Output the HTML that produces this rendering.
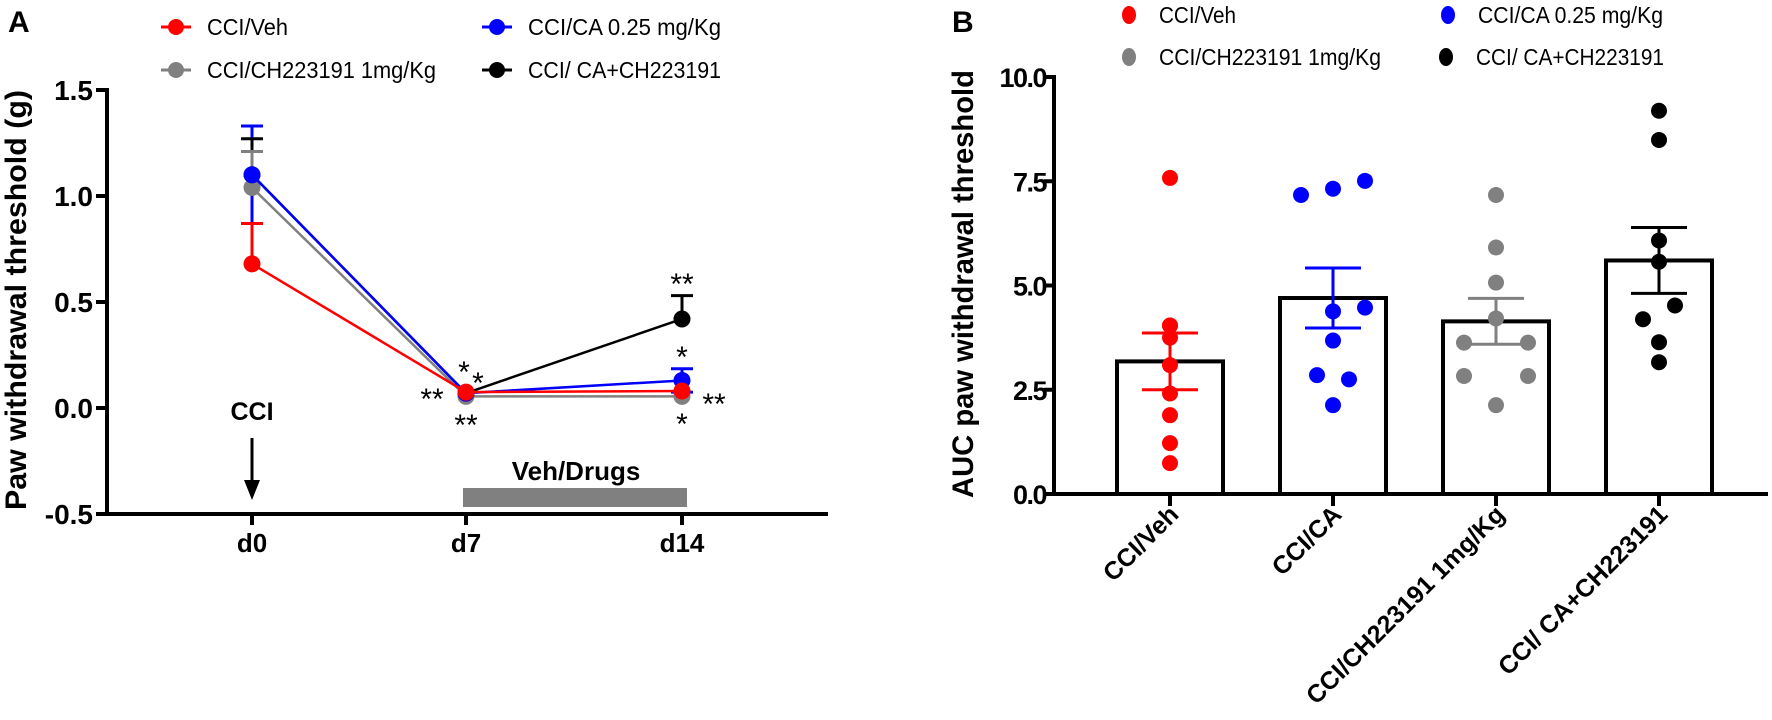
<!DOCTYPE html>
<html><head><meta charset="utf-8"><style>
html,body{margin:0;padding:0;background:#fff;}
svg{display:block;font-family:"Liberation Sans",Arial,sans-serif;}
</style></head><body>
<svg id="fig" width="1772" height="720" viewBox="0 0 1772 720" xmlns="http://www.w3.org/2000/svg">
<g id="panelA"></g>
<g id="panelB"></g>
</svg>
<script>
// ---------- Panel A data ----------
const daysA = ["d0", "d7", "d14"];
const yTicksA = [-0.5, 0.0, 0.5, 1.0, 1.5];
const yTickLabelsA = ["-0.5", "0.0", "0.5", "1.0", "1.5"];
const seriesNamesA = ["CCI/Veh", "CCI/CH223191 1mg/Kg", "CCI/CA 0.25 mg/Kg", "CCI/ CA+CH223191"];
const vehMean = [0.68, 0.075, 0.08];
const vehErr = [0.19, 0.0, 0.0];
const chMean = [1.04, 0.055, 0.055];
const chErr = [0.17, 0.0, 0.0];
const caMean = [1.10, 0.07, 0.13];
const caErr = [0.23, 0.0, 0.055];
const comboMean = [1.10, 0.07, 0.42];
const comboErr = [0.17, 0.0, 0.11];

// ---------- Panel B data ----------
const groupsB = ["CCI/Veh", "CCI/CA", "CCI/CH223191 1mg/Kg", "CCI/ CA+CH223191"];
const yTicksB = [0, 2.5, 5.0, 7.5, 10.0];
const yTickLabelsB = ["0.0", "2.5", "5.0", "7.5", "10.0"];
const barMeansB = [3.18, 4.70, 4.14, 5.60];
const barSemB = [0.68, 0.72, 0.55, 0.79];
const vehPoints = [7.58, 4.04, 4.04, 3.75, 3.09, 2.41, 1.89, 1.22, 0.74];
const caPoints = [7.17, 7.32, 7.51, 4.38, 4.47, 3.68, 2.85, 2.75, 2.13];
const chPoints = [7.17, 5.91, 5.07, 4.21, 3.63, 3.63, 2.83, 2.83, 2.13];
const comboPoints = [9.19, 8.49, 6.08, 5.57, 4.52, 4.19, 3.64, 3.16];
const jitterB = [[0,0,0,0,0,0,0,0,0],[-1,0,1,0,1,0,-0.5,0.5,0],[0,0,0,0,-1,1,-1,1,0],[0,0,0,0,0.5,-0.5,0,0]];

const NS = "http://www.w3.org/2000/svg";
function mk(parent, tag, attrs, text) {
  const e = document.createElementNS(NS, tag);
  for (const k in attrs) e.setAttribute(k, attrs[k]);
  if (text !== undefined) e.textContent = text;
  parent.appendChild(e);
  return e;
}
const A = document.getElementById("panelA");
const B = document.getElementById("panelB");

// ---------- Panel A axes ----------
const axA = {x0: 107, xEnd: 828, y0: 408, pxPerUnit: 212};
const xA = i => [252, 466, 682][i];
const yA = v => axA.y0 - v * axA.pxPerUnit;

let t = mk(A, "text", {x: 8, y: 32, "font-size": 30, "font-weight": "bold"}, "A");



let ax = mk(A, "line", {x1: axA.x0, y1: yA(1.5) - 2, x2: axA.x0, y2: yA(-0.5) + 2, stroke: "#000", "stroke-width": 4});


ax = mk(A, "line", {x1: axA.x0 - 2, y1: yA(-0.5), x2: axA.xEnd, y2: yA(-0.5), stroke: "#000", "stroke-width": 4});



yTicksA.forEach((v, i) => {
  const tk = mk(A, "line", {x1: axA.x0 - 11, y1: yA(v), x2: axA.x0, y2: yA(v), stroke: "#000", "stroke-width": 4});
  
  
  const lb = mk(A, "text", {x: axA.x0 - 14, y: yA(v) + 10, "font-size": 28, "font-weight": "bold", "text-anchor": "end"}, yTickLabelsA[i]);
  
  
});
daysA.forEach((d, i) => {
  const tk = mk(A, "line", {x1: xA(i), y1: yA(-0.5), x2: xA(i), y2: yA(-0.5) + 11, stroke: "#000", "stroke-width": 4});
  
  
  const lb = mk(A, "text", {x: xA(i), y: 552, "font-size": 26, "font-weight": "bold", "text-anchor": "middle"}, d);
  
  
});
t = mk(A, "text", {transform: "translate(26,300) rotate(-90)", "font-size": 30, "font-weight": "bold", "text-anchor": "middle", textLength: 420, lengthAdjust: "spacingAndGlyphs"}, "Paw withdrawal threshold (g)");



// CCI arrow annotation
t = mk(A, "text", {x: 252, y: 420, "font-size": 25, "font-weight": "bold", "text-anchor": "middle"}, "CCI");


let ar = mk(A, "line", {x1: 252, y1: 438, x2: 252, y2: 482, stroke: "#000", "stroke-width": 3});


ar = mk(A, "polygon", {points: "244,480 260,480 252,500", fill: "#000"});



// Veh/Drugs bar
let vb = mk(A, "rect", {x: xA(1) - 3, y: 488, width: xA(2) - xA(1) + 8, height: 19, fill: "#808080"});


t = mk(A, "text", {x: 576, y: 480, "font-size": 26, "font-weight": "bold", "text-anchor": "middle"}, "Veh/Drugs");



// series A (draw order: gray, black, blue, red)
const seriesA = [
  {m: chMean, e: chErr, c: "#808080", name: "series-ch223191"},
  {m: comboMean, e: comboErr, c: "#000000", name: "series-ca-ch223191"},
  {m: caMean, e: caErr, c: "#0000ff", name: "series-ca"},
  {m: vehMean, e: vehErr, c: "#ff0000", name: "series-veh"}
];
[{m: caMean, e: caErr, c: "#0000ff", both: true}, {m: comboMean, e: comboErr, c: "#000"}, {m: chMean, e: chErr, c: "#808080"}, {m: vehMean, e: vehErr, c: "#ff0000"}].forEach(s => {
  s.m.forEach((v, i) => {
    if (s.e[i] <= 0) return;
    const lo = s.both ? v - s.e[i] : v;
    const eb = mk(A, "path", {d: `M${xA(i)},${yA(lo)}L${xA(i)},${yA(v + s.e[i])}M${xA(i)-11},${yA(v + s.e[i])}L${xA(i)+11},${yA(v + s.e[i])}` + (s.both ? `M${xA(i)-11},${yA(lo)}L${xA(i)+11},${yA(lo)}` : ""), stroke: s.c, "stroke-width": 3, fill: "none"});
    
    
  });
});
seriesA.forEach(s => {
  const g = mk(A, "g", {});
  
  
  const pts = s.m.map((v, i) => `${xA(i)},${yA(v)}`).join(" ");
  const pl = mk(g, "polyline", {points: pts, fill: "none", stroke: s.c, "stroke-width": 2.5});
  
  
  s.m.forEach((v, i) => {
    const c = mk(g, "circle", {cx: xA(i), cy: yA(v), r: 8.5, fill: s.c});
    
    
  });
});
// asterisks
const stars = [["**", 432, 392], ["*", 464, 365], ["*", 478, 376], ["**", 466, 418], ["**", 682, 277], ["*", 682, 350], ["**", 714, 397], ["*", 682, 417]];
stars.forEach(s => {
  const st = mk(A, "text", {x: s[1], y: s[2] + 17, "font-size": 30, "text-anchor": "middle"}, s[0]);
  
  
});

// legend A
const legA = [
  {t: seriesNamesA[0], c: "#ff0000", x: 176, y: 27, w: 81},
  {t: seriesNamesA[2], c: "#0000ff", x: 497, y: 27, w: 193},
  {t: seriesNamesA[1], c: "#808080", x: 176, y: 70, w: 229},
  {t: seriesNamesA[3], c: "#000000", x: 497, y: 70, w: 193}
];
legA.forEach(l => {
  const g = mk(A, "g", {});
  
  
  mk(g, "line", {x1: l.x - 15, y1: l.y, x2: l.x + 15, y2: l.y, stroke: l.c, "stroke-width": 3});
  mk(g, "circle", {cx: l.x, cy: l.y, r: 8, fill: l.c});
  mk(g, "text", {x: l.x + 31, y: l.y + 8, "font-size": 23, textLength: l.w, lengthAdjust: "spacingAndGlyphs"}, l.t);
});

// ---------- Panel B ----------
const axB = {x0: 1054, xEnd: 1768, y0: 494, pxPerUnit: 41.7};
const yB = v => axB.y0 - v * axB.pxPerUnit;
const xB = i => 1170 + i * 163;
const colorsB = ["#ff0000", "#0000ff", "#808080", "#000000"];
const pointsB = [vehPoints, caPoints, chPoints, comboPoints];

t = mk(B, "text", {x: 952, y: 32, "font-size": 30, "font-weight": "bold"}, "B");



barMeansB.forEach((m, i) => {
  const r = mk(B, "rect", {x: xB(i) - 53, y: yB(m), width: 106, height: yB(0) - yB(m), fill: "#fff", stroke: "#000", "stroke-width": 4});
  
  
});
pointsB.forEach((arr, i) => {
  arr.forEach((v, j) => {
    const c = mk(B, "circle", {cx: xB(i) + jitterB[i][j] * 32, cy: yB(v), r: 8, fill: colorsB[i]});
    
    
  });
});
barMeansB.forEach((m, i) => {
  const hi = m + barSemB[i], lo = m - barSemB[i];
  const eb = mk(B, "path", {d: `M${xB(i)},${yB(lo)}L${xB(i)},${yB(hi)}M${xB(i)-28},${yB(hi)}L${xB(i)+28},${yB(hi)}M${xB(i)-28},${yB(lo)}L${xB(i)+28},${yB(lo)}`, stroke: colorsB[i], "stroke-width": 3, fill: "none"});
  
  
});
ax = mk(B, "line", {x1: axB.x0, y1: yB(10) - 2, x2: axB.x0, y2: yB(0) + 2, stroke: "#000", "stroke-width": 4});


ax = mk(B, "line", {x1: axB.x0 - 2, y1: yB(0), x2: axB.xEnd, y2: yB(0), stroke: "#000", "stroke-width": 4});


yTicksB.forEach((v, i) => {
  const tk = mk(B, "line", {x1: axB.x0 - 10, y1: yB(v), x2: axB.x0, y2: yB(v), stroke: "#000", "stroke-width": 4});
  
  
  const lb = mk(B, "text", {x: axB.x0 - 8, y: yB(v) + 10, "font-size": 27, "font-weight": "bold", "text-anchor": "end", "letter-spacing": -1.5}, yTickLabelsB[i]);
  
  
});
groupsB.forEach((g, i) => {
  const tk = mk(B, "line", {x1: xB(i), y1: yB(0), x2: xB(i), y2: yB(0) + 12, stroke: "#000", "stroke-width": 4});
  
  
  const lb = mk(B, "text", {transform: `translate(${xB(i) + 10},${yB(0) + 22}) rotate(-45)`, "font-size": 25, "font-weight": "bold", "text-anchor": "end"}, g);
  
  
});
t = mk(B, "text", {transform: "translate(973,284) rotate(-90)", "font-size": 30, "font-weight": "bold", "text-anchor": "middle", textLength: 428, lengthAdjust: "spacingAndGlyphs"}, "AUC  paw withdrawal threshold");



const legB = [
  {t: "CCI/Veh", c: "#ff0000", x: 1129, y: 15, w: 77},
  {t: "CCI/CA 0.25 mg/Kg", c: "#0000ff", x: 1448, y: 15, w: 185},
  {t: "CCI/CH223191 1mg/Kg", c: "#808080", x: 1129, y: 57, w: 222},
  {t: "CCI/ CA+CH223191", c: "#000000", x: 1446, y: 57, w: 188}
];
legB.forEach(l => {
  const g = mk(B, "g", {});
  
  
  mk(g, "ellipse", {cx: l.x, cy: l.y, rx: 7, ry: 9, fill: l.c});
  mk(g, "text", {x: l.x + 30, y: l.y + 8, "font-size": 23, textLength: l.w, lengthAdjust: "spacingAndGlyphs"}, l.t);
});
</script>
</body></html>
